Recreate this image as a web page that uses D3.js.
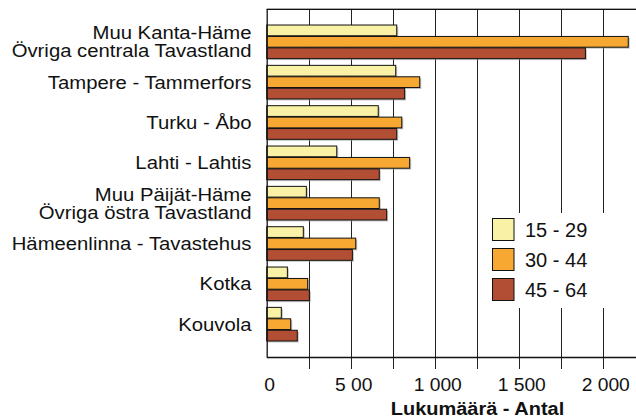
<!DOCTYPE html>
<html><head><meta charset="utf-8">
<script src="https://cdn.jsdelivr.net/npm/d3@7"></script>
<style>body{margin:0;background:#fff}svg{display:block}</style>
</head><body>
<svg id="c" width="636" height="417"></svg>
<script>
const categories = [
  ["Muu Kanta-Häme","Övriga centrala Tavastland"],
  ["Tampere - Tammerfors"],
  ["Turku - Åbo"],
  ["Lahti - Lahtis"],
  ["Muu Päijät-Häme","Övriga östra Tavastland"],
  ["Hämeenlinna - Tavastehus"],
  ["Kotka"],
  ["Kouvola"]
];
const seriesNames = ["15 - 29","30 - 44","45 - 64"];
const age15_29 = [774, 768, 664, 417, 236, 218, 123, 87];
const age30_44 = [2152, 911, 804, 851, 670, 530, 244, 143];
const age45_64 = [1897, 821, 774, 670, 714, 510, 254, 182];
const colors = ["#F8F1A6","#F6A833","#B24E33"];
const tickValues = [0, 500, 1000, 1500, 2000];
const tickLabels = ["0","5 00","1 000","1 500","2 000"];
const gridValues = [250, 500, 750, 1000, 1250, 1500, 1750, 2000];
const axisTitle = "Lukumäärä - Antal";

(function(){
const svg = d3.select("#c");
const font = "'Liberation Sans', Arial, sans-serif";
const x0 = 266.7, plotTop = 9, plotBottom = 357;
const x = d3.scaleLinear().domain([0, 2000]).range([x0, 602.7]);
const ids = categories.map((d,i)=>i);
const y = d3.scaleBand().domain(ids).range([plotTop, plotBottom]).paddingInner(1/6).paddingOuter(0.397);
const ySub = d3.scaleBand().domain([0,1,2]).range([0, y.bandwidth()]).paddingInner(0.06);
const series = [age15_29, age30_44, age45_64];

// gridlines (extend below axis as ticks)
svg.append("g").selectAll("line").data(gridValues).join("line")
  .attr("x1", d=>Math.round(x(d))+0.5).attr("x2", d=>Math.round(x(d))+0.5)
  .attr("y1", plotTop).attr("y2", 369)
  .attr("stroke", "#222").attr("stroke-width", 1);

// top border
svg.append("line").attr("x1", x0).attr("x2", 636).attr("y1", 8.5).attr("y2", 8.5).attr("stroke","#aaa");
svg.append("line").attr("x1", x0).attr("x2", 636).attr("y1", 9.5).attr("y2", 9.5).attr("stroke","#111");

// legend background
const lg = svg.append("g");
lg.append("rect").attr("x", 486).attr("y", 213).attr("width", 150).attr("height", 95).attr("fill", "#fff");

// bars
const gBars = svg.append("g");
categories.forEach((c, i) => {
  series.forEach((s, j) => {
    const yy = y(i) + ySub(j);
    const w = x(s[i]) - x(0);
    gBars.append("rect").attr("x", x(0)+1.5).attr("y", yy+1.5).attr("width", w).attr("height", ySub.bandwidth())
      .attr("fill", "#999").attr("opacity", 0.6);
    gBars.append("rect").attr("x", x(0)).attr("y", yy).attr("width", w).attr("height", ySub.bandwidth())
      .attr("fill", colors[j]).attr("stroke", "#111").attr("stroke-width", 1);
  });
});

// axes lines
svg.append("line").attr("x1", x0+0.5).attr("x2", x0+0.5).attr("y1", plotTop).attr("y2", plotBottom).attr("stroke","#111").attr("stroke-width",1.3);
svg.append("line").attr("x1", x0).attr("x2", 636).attr("y1", plotBottom+0.5).attr("y2", plotBottom+0.5).attr("stroke","#111").attr("stroke-width",1.3);

// tick labels
svg.append("g").selectAll("text").data(tickValues).join("text")
  .attr("transform", d=>`translate(${x(d)+3},390.5) scale(1.1,1)`).attr("text-anchor","middle")
  .attr("font-family", font).attr("font-size", 17.5).attr("fill","#111")
  .text((d,i)=>tickLabels[i]);
svg.append("text").attr("transform","translate(477.5,414.5) scale(1.08,1)").attr("text-anchor","middle")
  .attr("font-family", font).attr("font-size", 18.5).attr("font-weight","bold").attr("fill","#111")
  .text(axisTitle);

// category labels
categories.forEach((lines, i) => {
  const cy = y(i) + y.bandwidth()/2;
  const lh = 18;
  lines.forEach((ln, k) => {
    const base = cy + 6.5 - (lines.length-1)*lh/2 + k*lh;
    svg.append("text").attr("transform", `translate(251.5,${base}) scale(1.16,1)`)
      .attr("text-anchor","end").attr("font-family", font).attr("font-size", 17.5).attr("fill","#111")
      .text(ln);
  });
});

// legend
seriesNames.forEach((n, j) => {
  const yy = 218.5 + j*30;
  lg.append("rect").attr("x", 492.5).attr("y", yy).attr("width", 21.5).attr("height", 22)
    .attr("fill", colors[j]).attr("stroke","#111").attr("stroke-width",1);
  lg.append("text").attr("x", 525).attr("y", yy+18.5).attr("font-family", font).attr("font-size", 20).attr("fill","#111").text(n);
});
})();
</script>
</body></html>
